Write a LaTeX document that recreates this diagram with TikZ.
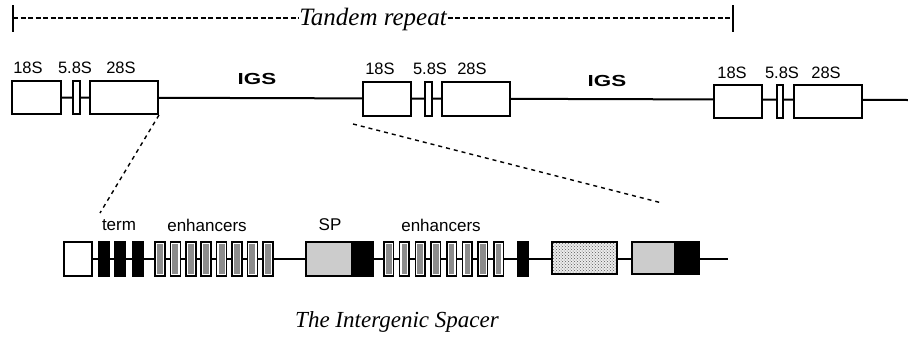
\documentclass[tikz,border=0pt]{standalone}
\usepackage{fontspec}
\setsansfont{Liberation Sans}
\newfontfamily\captionfont{Liberation Serif}
\usepackage{graphicx}
\usetikzlibrary{fit, backgrounds, patterns}

\begin{document}
\begin{tikzpicture}[
    x=1pt, y=-1pt,
    % ---- rDNA genes ----
    gene/.style={draw, line width=2pt, fill=white, inner sep=0pt},
    % ---- IGS elements ----
    termbar/.style={draw, line width=1.4pt, fill=black, inner sep=0pt},
    enh/.style={
        draw, line width=1.5pt, fill=white, inner sep=0pt,
        path picture={\fill[gray!90]
            ([shift={(2pt,2pt)}]path picture bounding box.south west) rectangle
            ([shift={(-2pt,-2pt)}]path picture bounding box.north east);}
    },
    spbox/.style={draw, line width=2pt, fill=gray!40, inner sep=0pt},
    blackbox/.style={draw, line width=2pt, fill=black, inner sep=0pt},
    dotbox/.style={draw, line width=2pt, inner sep=0pt,
        preaction={fill=gray!15}, pattern=crosshatch dots, pattern color=gray!70!black},
    % ---- lines ----
    dna/.style={line width=2pt},
    zoomline/.style={line width=1.4pt, dash pattern=on 4pt off 4pt},
    repeatline/.style={line width=1.8pt, dash pattern=on 5pt off 2.5pt},
    tickbar/.style={line width=1.5pt},
    % ---- labels ----
    lab/.style={font=\sffamily\fontsize{16.5}{16.5}\selectfont, inner sep=0pt},
    igs/.style={font=\sffamily\bfseries\fontsize{16}{16}\selectfont, inner sep=0pt},
    title/.style={font=\captionfont\itshape\fontsize{25}{25}\selectfont, inner sep=1pt}
]
\useasboundingbox (0,0) rectangle (908,338);

% ---------- Tandem repeat ----------
\coordinate (tl) at (13,18);
\coordinate (tr) at (733,18);
\node[title] (tandem) at (373,19) {Tandem repeat};
\draw[repeatline] (tl) -- (tl -| tandem.west);
\draw[repeatline] (tl -| tandem.east) -- (tr);
\draw[tickbar] ([yshift=13pt]tl) -- ([yshift=-14pt]tl);
\draw[tickbar] ([yshift=13pt]tr) -- ([yshift=-14pt]tr);

% ---------- ROW 1: three rDNA units ----------
\node[gene, fit={(12,81) (61,114)}] (a18) {};
\node[gene, fit={(73,81) (80,114)}] (a58) {};
\node[gene, fit={(90,81) (158,114)}] (a28) {};

\node[gene, fit={(363,82) (411,116)}] (b18) {};
\node[gene, fit={(425,82) (432,116)}] (b58) {};
\node[gene, fit={(442,82) (510,116)}] (b28) {};

\node[gene, fit={(714,85) (762,118)}] (c18) {};
\node[gene, fit={(777,85) (783,118)}] (c58) {};
\node[gene, fit={(794,85) (862,118)}] (c28) {};

\coordinate (tailA) at (908,100);
\begin{scope}[on background layer]
    \draw[dna] (a18.east) -- (tailA);
\end{scope}

\node[lab] at (28,68) {18S};
\node[lab] at (75,68) {5.8S};
\node[lab] at (121,68) {28S};
\node[lab] at (380,69) {18S};
\node[lab] at (430,69) {5.8S};
\node[lab] at (472,69) {28S};
\node[lab] at (732,73) {18S};
\node[lab] at (782,73) {5.8S};
\node[lab] at (826,73) {28S};
\node[igs] at (257,79) {\scalebox{1.4}[1]{IGS}};
\node[igs] at (607,81) {\scalebox{1.4}[1]{IGS}};

% ---------- zoom lines ----------
\coordinate (zl) at (100,213);
\coordinate (zr0) at (353,124);
\coordinate (zr1) at (662,203);
\draw[zoomline] (a28.south east) -- (zl);
\draw[zoomline] (zr0) -- (zr1);

% ---------- ROW 2: the intergenic spacer ----------
\node[gene, fit={(64,242) (92,276)}] (ws) {};
\node[termbar, fit={(99,242) (109,276)}] (t1) {};
\node[termbar, fit={(115,242) (125,276)}] (t2) {};
\node[termbar, fit={(133,242) (143,276)}] (t3) {};
\foreach \i in {0,...,7}
    \node[enh, fit={(155+15.4*\i,242) (165+15.4*\i,276)}] (ea\i) {};
\node[spbox, fit={(306,242) (352,276)}] (sp) {};
\node[blackbox, fit={(352,242) (373,276)}] (spb) {};
\foreach \i in {0,...,7}
    \node[enh, fit={(384+15.7*\i,242) (393.5+15.7*\i,276)}] (eb\i) {};
\node[termbar, fit={(518,242) (528,276)}] (t4) {};
\node[dotbox, fit={(552,242) (617,274)}] (dots) {};
\node[spbox, fit={(632,242) (675,274)}] (gr) {};
\node[blackbox, fit={(675,242) (699,274)}] (grb) {};

\coordinate (tailB) at (728,259);
\begin{scope}[on background layer]
    \draw[dna] (ws.west) -- (tailB);
\end{scope}

\node[lab, font=\sffamily\fontsize{17}{17}\selectfont] at (119,225) {term};
\node[lab, font=\sffamily\fontsize{17}{17}\selectfont] at (207,225) {enhancers};
\node[lab, font=\sffamily\fontsize{17}{17}\selectfont] at (330,225) {SP};
\node[lab, font=\sffamily\fontsize{17}{17}\selectfont] at (441,225) {enhancers};

\node[title, font=\captionfont\itshape\fontsize{23}{23}\selectfont] (igsname) at (397,322) {The Intergenic Spacer};

\end{tikzpicture}
\end{document}
